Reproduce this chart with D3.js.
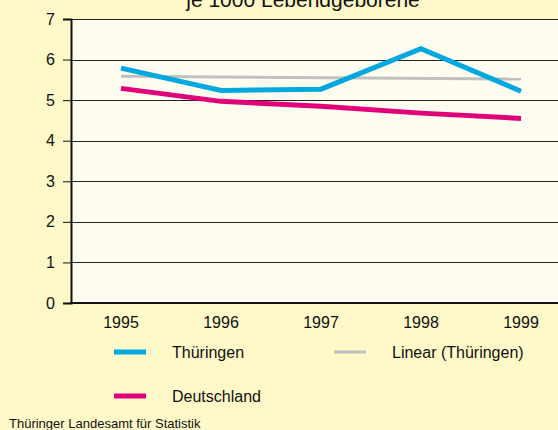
<!DOCTYPE html>
<html>
<head>
<meta charset="utf-8">
<script src="https://cdn.jsdelivr.net/npm/d3@7"></script>
<style>
  body { margin: 0; background: #fff8c8; }
  text { font-family: "Liberation Sans", Arial, sans-serif; fill: #111; }
</style>
</head>
<body>
<div id="chart"></div>
<script>
var width = 558,
  height = 430;

var years = ["1995", "1996", "1997", "1998", "1999"];
var thueringen = [5.79, 5.24, 5.27, 6.27, 5.22];
var deutschland = [5.29, 4.97, 4.85, 4.68, 4.55];
var trendYears = ["1995", "1999"];
var trend = [5.59, 5.52];
var yTicks = [0, 1, 2, 3, 4, 5, 6, 7];

var svg = d3.select("#chart").append("svg")
  .attr("width", width)
  .attr("height", height);

svg.append("rect").attr("width", width).attr("height", height).attr("fill", "#fff8c8");

var x = d3.scaleBand().domain(years).range([71, 571]);
var y = d3.scaleLinear().domain([0, 7]).range([303, 19]);
var cx = function (d) { return x(d) + x.bandwidth() / 2; };

// plot area
svg.append("rect")
  .attr("x", 71).attr("y", y(7))
  .attr("width", 500).attr("height", y(0) - y(7))
  .attr("fill", "#fffdf0");

// grid
svg.append("g").selectAll("line").data(yTicks.slice(1)).enter().append("line")
  .attr("x1", 71).attr("x2", width)
  .attr("y1", function (d) { return Math.round(y(d)) + 0.5; })
  .attr("y2", function (d) { return Math.round(y(d)) + 0.5; })
  .attr("stroke", "#222").attr("stroke-width", 1);

// y axis
var yAxis = svg.append("g")
  .attr("transform", "translate(71,0)")
  .call(d3.axisLeft(y).tickValues(yTicks).tickSize(8).tickPadding(8).tickFormat(d3.format("d")));
yAxis.select(".domain").attr("stroke", "#111").attr("stroke-width", 2);
yAxis.selectAll(".tick line").attr("stroke", "#111");
yAxis.selectAll(".tick text").style("font-size", "16px").attr("fill", "#111");

// x axis line
svg.append("line")
  .attr("x1", 70).attr("x2", width)
  .attr("y1", y(0)).attr("y2", y(0))
  .attr("stroke", "#111").attr("stroke-width", 2);

svg.append("g").selectAll("text").data(years).enter().append("text")
  .attr("x", cx)
  .attr("y", 328)
  .attr("text-anchor", "middle")
  .style("font-size", "16px")
  .text(function (d) { return d; });

// lines
var line = d3.line()
  .x(function (d) { return cx(d[0]); })
  .y(function (d) { return y(d[1]); });

svg.append("path")
  .datum(d3.zip(trendYears, trend))
  .attr("d", line)
  .attr("fill", "none").attr("stroke", "#c0c0c0").attr("stroke-width", 3);

svg.append("path")
  .datum(d3.zip(years, thueringen))
  .attr("d", line)
  .attr("fill", "none").attr("stroke", "#00a8e0").attr("stroke-width", 5);

svg.append("path")
  .datum(d3.zip(years, deutschland))
  .attr("d", line)
  .attr("fill", "none").attr("stroke", "#e2007a").attr("stroke-width", 5);

// title (partly cut at top)
svg.append("text")
  .attr("x", 303).attr("y", 7)
  .attr("text-anchor", "middle")
  .style("font-size", "21px")
  .text("je 1000 Lebendgeborene");

// legend
var legend = [
  { name: "Thüringen", color: "#00a8e0", w: 5, x: 114, y: 352 },
  { name: "Linear (Thüringen)", color: "#c0c0c0", w: 3, x: 334, y: 352 },
  { name: "Deutschland", color: "#e2007a", w: 5, x: 114, y: 396 }
];

var lg = svg.append("g").selectAll("g").data(legend).enter().append("g");
lg.append("line")
  .attr("x1", function (d) { return d.x; })
  .attr("x2", function (d) { return d.x + 32; })
  .attr("y1", function (d) { return d.y; })
  .attr("y2", function (d) { return d.y; })
  .attr("stroke", function (d) { return d.color; })
  .attr("stroke-width", function (d) { return d.w; });
lg.append("text")
  .attr("x", function (d) { return d.x + 58; })
  .attr("y", function (d) { return d.y + 6; })
  .style("font-size", "16px")
  .text(function (d) { return d.name; });

svg.append("text")
  .attr("x", 9).attr("y", 428)
  .style("font-size", "13px")
  .text("Thüringer Landesamt für Statistik");
</script>
</body>
</html>
